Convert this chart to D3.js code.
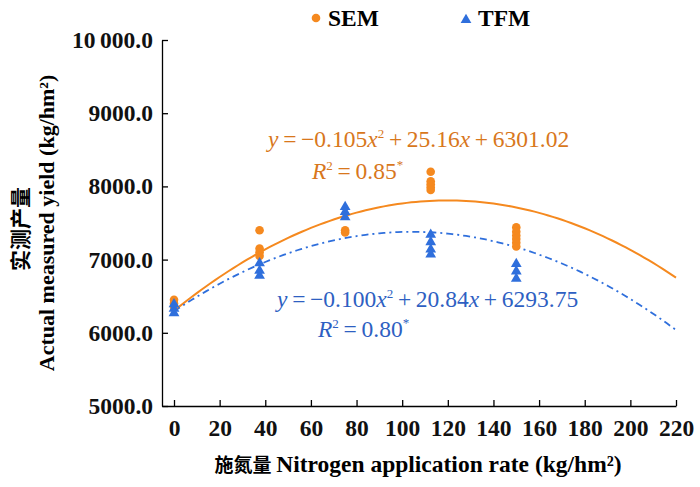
<!DOCTYPE html>
<html><head><meta charset="utf-8">
<script src="https://cdn.jsdelivr.net/npm/d3@7"></script>
<style>body{margin:0;background:#fff}svg{display:block}</style>
</head><body>
<svg id="c" width="700" height="487"></svg>
<script>
const semX = [0,0,0, 37.5,37.5,37.5,37.5, 75,75, 112.5,112.5,112.5,112.5,112.5, 150,150,150,150,150,150];
const semY = [6450,6400,6360, 7400,7150,7100,7050, 7400,7370, 8200,8070,8030,7990,7950, 7440,7380,7330,7280,7230,7180];
const tfmX = [0,0,0, 37.5,37.5,37.5, 75,75,75, 112.5,112.5,112.5,112.5, 150,150,150];
const tfmY = [6390,6330,6270, 6950,6850,6780, 7720,7650,7580, 7340,7240,7140,7070, 6940,6840,6740];
const semCoef = [-0.105, 25.16, 6301.02];
const tfmCoef = [-0.100, 20.84, 6293.75];
const xTicks = [0,20,40,60,80,100,120,140,160,180,200,220];
const yTicks = [5000,6000,7000,8000,9000,10000];
const curveX = d3.range(0, 220.5, 2);

const ORANGE = "#f5891f", BLUE = "#2f6fdc", OTXT = "#d8771c", BTXT = "#2e5fc2";
const FONT = "'Liberation Serif','Times New Roman','Noto Sans CJK SC',serif";
const svg = d3.select("#c").style("font-family", FONT);
const x = d3.scaleLinear().domain([-5.26, 220]).range([162, 676]);
const y = d3.scaleLinear().domain([5000, 10000]).range([406, 40]);

// axes
const xa = svg.append("g").attr("transform", "translate(0,406)")
  .call(d3.axisBottom(x).tickValues(xTicks).tickSizeInner(-6).tickSizeOuter(0).tickPadding(13));
const ya = svg.append("g").attr("transform", "translate(162,0)")
  .call(d3.axisLeft(y).tickValues(yTicks).tickSizeInner(-6).tickSizeOuter(0).tickPadding(9)
    .tickFormat(d => d === 10000 ? "10\u2009000.0" : d3.format(".1f")(d)));
[xa, ya].forEach(g => {
  g.selectAll("path,line").attr("stroke", "#000").attr("stroke-width", 1.3);
  g.selectAll("text").attr("font-family", FONT).attr("font-size", 23.5).attr("font-weight", "bold").attr("fill", "#111");
});

// curves
const quad = c => v => c[0]*v*v + c[1]*v + c[2];
const line = d3.line().x(d => x(d[0])).y(d => y(d[1]));
svg.append("path").datum(curveX.map(v => [v, quad(semCoef)(v)]))
  .attr("d", line).attr("fill", "none").attr("stroke", ORANGE).attr("stroke-width", 2);
svg.append("path").datum(curveX.map(v => [v, quad(tfmCoef)(v)]))
  .attr("d", line).attr("fill", "none").attr("stroke", BLUE).attr("stroke-width", 1.8)
  .attr("stroke-dasharray", "7,4,2,4");

// points
svg.append("g").selectAll("circle").data(semY).join("circle")
  .attr("cx", (d, i) => x(semX[i])).attr("cy", d => y(d)).attr("r", 4.3).attr("fill", ORANGE);
const tri = d3.symbol().type(d3.symbolTriangle).size(50);
svg.append("g").selectAll("path").data(tfmY).join("path")
  .attr("d", tri).attr("transform", (d, i) => `translate(${x(tfmX[i])},${y(d)})`).attr("fill", BLUE);

// legend
svg.append("circle").attr("cx", 316).attr("cy", 18).attr("r", 4.3).attr("fill", ORANGE);
svg.append("text").attr("x", 328).attr("y", 26).text("SEM").attr("font-size", 23.5).attr("font-weight", "bold");
svg.append("path").attr("d", tri).attr("transform", "translate(466,20)").attr("fill", BLUE);
svg.append("text").attr("x", 478).attr("y", 26).text("TFM").attr("font-size", 23.5).attr("font-weight", "bold");

// equations
const SP = "\u2009";
function eq(xp, yp, color, coefTxt) {
  const t = svg.append("text").attr("x", xp).attr("y", yp).attr("fill", color).attr("font-size", 23.5);
  t.append("tspan").attr("font-style", "italic").text("y");
  t.append("tspan").text(SP + "=" + SP + "\u2212" + coefTxt[0]);
  t.append("tspan").attr("font-style", "italic").text("x");
  t.append("tspan").attr("font-size", 13).attr("dy", -9).text("2");
  t.append("tspan").attr("dy", 9).text(SP + "+" + SP + coefTxt[1]);
  t.append("tspan").attr("font-style", "italic").text("x");
  t.append("tspan").text(SP + "+" + SP + coefTxt[2]);
}
function r2(xp, yp, color, val) {
  const t = svg.append("text").attr("x", xp).attr("y", yp).attr("fill", color).attr("font-size", 23.5);
  t.append("tspan").attr("font-style", "italic").text("R");
  t.append("tspan").attr("font-size", 13).attr("dy", -9).text("2");
  t.append("tspan").attr("dy", 9).text(SP + "=" + SP + val);
  t.append("tspan").attr("font-size", 13).attr("dy", -10).text("*");
}
eq(268, 147, OTXT, ["0.105", "25.16", "6301.02"]);
r2(312, 179, OTXT, "0.85");
eq(277, 307, BTXT, ["0.100", "20.84", "6293.75"]);
r2(318, 337, BTXT, "0.80");

// axis titles
const xt = svg.append("text").attr("x", 418).attr("y", 472).attr("text-anchor", "middle")
  .attr("font-weight", "bold");
xt.append("tspan").attr("font-size", 19).text("施氮量 ");
xt.append("tspan").attr("font-size", 23.5).text("Nitrogen application rate (kg/hm²)");
svg.append("text").attr("transform", "translate(28,229) rotate(-90)").attr("text-anchor", "middle")
  .attr("font-size", 21).attr("font-weight", "bold").text("实测产量");
svg.append("text").attr("transform", "translate(54,223) rotate(-90)").attr("text-anchor", "middle")
  .attr("font-size", 22).attr("font-weight", "bold").text("Actual measured yield (kg/hm²)");
</script>
</body></html>
